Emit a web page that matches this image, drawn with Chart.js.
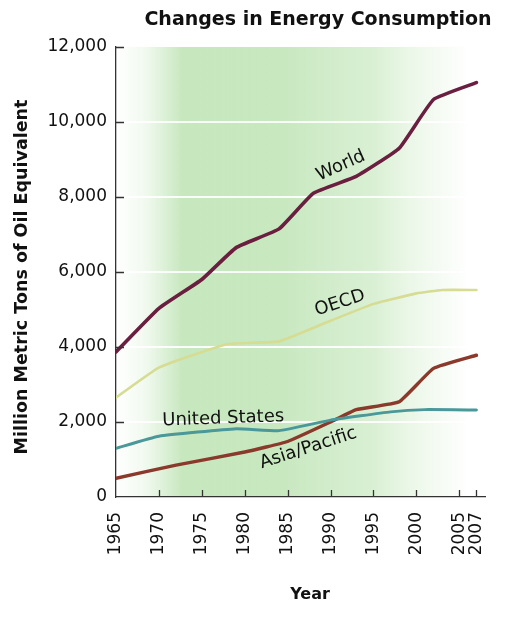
<!DOCTYPE html>
<html>
<head>
<meta charset="utf-8">
<script src="https://cdn.jsdelivr.net/npm/chart.js@4/dist/chart.umd.min.js"></script>
<style>
  html, body { margin: 0; padding: 0; background: #fff; }
  #wrap { width: 525px; height: 626px; }
</style>
</head>
<body>
<div id="wrap"><canvas id="chart" width="525" height="626"></canvas></div>
<script>
// Energy consumption, million metric tons of oil equivalent
const worldYears = [1965, 1970, 1975, 1979, 1984, 1988, 1993, 1998, 2002, 2007];
const worldValues = [3870, 5030, 5800, 6650, 7150, 8100, 8550, 9300, 10600, 11050];

const oecdYears = [1965, 1970, 1978, 1984, 1990, 1995, 2000, 2003, 2007];
const oecdValues = [2650, 3450, 4080, 4150, 4700, 5150, 5430, 5520, 5520];

const usYears = [1965, 1970, 1979, 1984, 1990, 1997, 2001, 2007];
const usValues = [1300, 1620, 1820, 1770, 2050, 2270, 2330, 2320];

const asiaYears = [1965, 1972, 1980, 1985, 1990, 1993, 1998, 2002, 2007];
const asiaValues = [500, 850, 1200, 1480, 2000, 2330, 2540, 3430, 3780];

const xTickYears = [1965, 1970, 1975, 1980, 1985, 1990, 1995, 2000, 2005, 2007];
const yTickValues = [0, 2000, 4000, 6000, 8000, 10000, 12000];

// in-chart series labels: text, anchor (year, value), rotation in degrees
const lineLabels = [
  { text: 'World', year: 1991.2, value: 8830, angle: -24 },
  { text: 'OECD', year: 1991.1, value: 5170, angle: -18 },
  { text: 'United States', year: 1977.5, value: 2090, angle: -2 },
  { text: 'Asia/Pacific', year: 1987.4, value: 1300, angle: -18 }
];

const FONT = '"DejaVu Sans", "Liberation Sans", Arial, sans-serif';

const toPoints = (xs, ys) => xs.map((x, i) => ({ x: x, y: ys[i] }));

function series(label, xs, ys, color, width) {
  return {
    label: label,
    data: toPoints(xs, ys),
    borderColor: color,
    borderWidth: width,
    pointRadius: 0,
    tension: 0.12,
    fill: false,
    borderCapStyle: 'round',
    borderJoinStyle: 'round'
  };
}

// soft green wash behind the plot
const backdrop = {
  id: 'backdrop',
  beforeDraw(chart) {
    const { ctx, chartArea: a } = chart;
    const g = ctx.createLinearGradient(a.left, 0, a.right, 0);
    g.addColorStop(0.0, 'rgba(200,232,192,0)');
    g.addColorStop(0.08, 'rgba(200,232,192,0.25)');
    g.addColorStop(0.18, 'rgba(196,230,187,0.95)');
    g.addColorStop(0.45, 'rgba(200,232,192,1)');
    g.addColorStop(0.7, 'rgba(208,236,201,0.8)');
    g.addColorStop(0.86, 'rgba(222,241,216,0.35)');
    g.addColorStop(0.96, 'rgba(222,241,216,0)');
    ctx.save();
    ctx.fillStyle = g;
    ctx.fillRect(a.left, a.top, a.right - a.left, a.bottom - a.top);
    ctx.restore();
  }
};

// inward tick marks, titles and line labels
const decorations = {
  id: 'decorations',
  afterDraw(chart) {
    const { ctx, chartArea: a, scales: { x, y } } = chart;
    ctx.save();
    ctx.strokeStyle = '#333';
    ctx.lineWidth = 1.3;
    ctx.beginPath();
    yTickValues.forEach(v => {
      if (v === 0) return;
      const py = Math.round(y.getPixelForValue(v)) + 0.5;
      ctx.moveTo(a.left, py);
      ctx.lineTo(a.left + 8, py);
    });
    xTickYears.forEach(v => {
      if (v === 1965) return;
      const px = Math.round(x.getPixelForValue(v)) + 0.5;
      ctx.moveTo(px, a.bottom);
      ctx.lineTo(px, a.bottom - 7);
    });
    ctx.stroke();

    ctx.fillStyle = '#111';
    ctx.textAlign = 'center';
    ctx.textBaseline = 'middle';

    ctx.font = 'bold 19px ' + FONT;
    ctx.fillText('Changes in Energy Consumption', 318, 20);

    ctx.font = 'bold 16px ' + FONT;
    ctx.fillText('Year', 310, 595);

    ctx.save();
    ctx.translate(22, 277);
    ctx.rotate(-Math.PI / 2);
    ctx.font = 'bold 17.5px ' + FONT;
    ctx.fillText('Million Metric Tons of Oil Equivalent', 0, 0);
    ctx.restore();

    ctx.font = '18px ' + FONT;
    lineLabels.forEach(l => {
      ctx.save();
      ctx.translate(x.getPixelForValue(l.year), y.getPixelForValue(l.value));
      ctx.rotate(l.angle * Math.PI / 180);
      ctx.fillText(l.text, 0, 0);
      ctx.restore();
    });
    ctx.restore();
  }
};

new Chart(document.getElementById('chart').getContext('2d'), {
  type: 'line',
  data: {
    datasets: [
      series('OECD', oecdYears, oecdValues, '#d6dc91', 2.6),
      series('United States', usYears, usValues, '#4a9899', 3),
      series('Asia/Pacific', asiaYears, asiaValues, '#8a392b', 3.4),
      series('World', worldYears, worldValues, '#6a1f40', 3.6)
    ]
  },
  plugins: [backdrop, decorations],
  options: {
    responsive: false,
    animation: false,
    events: [],
    layout: { padding: { top: 47, right: 40, left: 0, bottom: 0 } },
    plugins: {
      legend: { display: false },
      title: { display: false },
      tooltip: { enabled: false }
    },
    scales: {
      x: {
        type: 'linear',
        min: 1965,
        max: 2008,
        afterBuildTicks: (scale) => { scale.ticks = xTickYears.map(v => ({ value: v })); },
        afterFit: (scale) => { scale.height = 129; },
        grid: { display: false, drawTicks: false },
        border: { display: true, color: '#333', width: 1.3 },
        ticks: {
          autoSkip: false,
          minRotation: 90,
          maxRotation: 90,
          padding: 15,
          color: '#111',
          font: { family: FONT, size: 17 },
          callback: (v) => String(v)
        }
      },
      y: {
        min: 0,
        max: 12000,
        afterBuildTicks: (scale) => { scale.ticks = yTickValues.map(v => ({ value: v })); },
        afterFit: (scale) => { scale.width = 116; },
        grid: {
          drawTicks: false,
          lineWidth: 2,
          color: (c) => (c.tick && (c.tick.value === 0 || c.tick.value === 12000)) ? 'rgba(0,0,0,0)' : 'rgba(255,255,255,0.9)'
        },
        border: { display: true, color: '#333', width: 1.3 },
        ticks: {
          padding: 9,
          color: '#111',
          font: { family: FONT, size: 17 },
          callback: (v) => v.toLocaleString('en-US')
        }
      }
    }
  }
});
</script>
</body>
</html>
